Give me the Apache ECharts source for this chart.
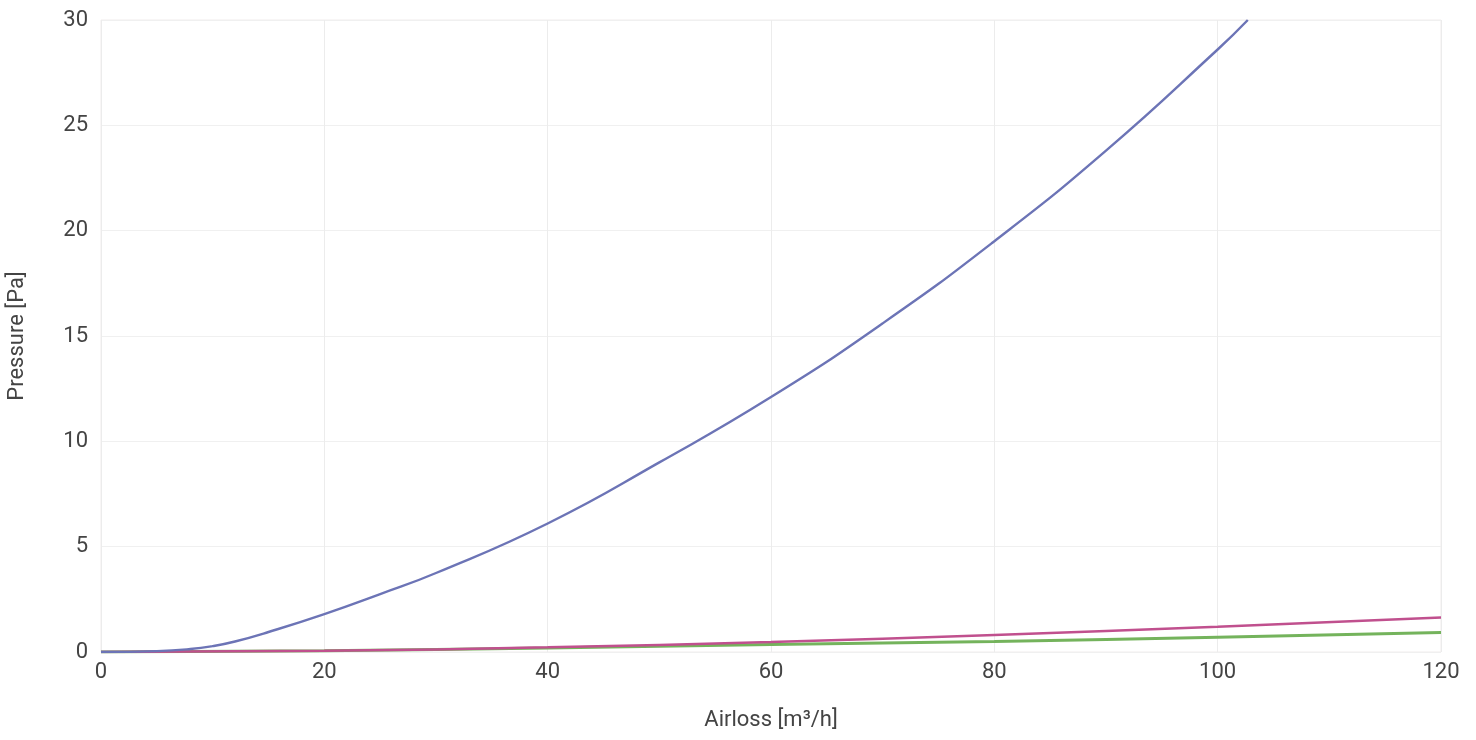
<!DOCTYPE html>
<html><head><meta charset="utf-8">
<script src="https://cdn.jsdelivr.net/npm/echarts@6/dist/echarts.min.js"></script>
<style>html,body{margin:0;padding:0;background:#fff}#c{width:1476px;height:740px}</style>
</head><body><div id="c"></div>
<script>
const blueX = [0, 5, 8, 10, 12, 15, 20, 25, 30, 40, 50, 60, 70, 80, 90, 100, 102.7];
const blueY = [0, 0.04, 0.14, 0.28, 0.5, 0.95, 1.8, 2.75, 3.75, 6.1, 9.0, 12.1, 15.6, 19.5, 23.8, 28.6, 30.0];
const pinkX = [0, 20, 40, 60, 80, 100, 120];
const pinkY = [0, 0.06, 0.22, 0.48, 0.81, 1.2, 1.64];
const greenX = [0, 20, 40, 60, 80, 100, 120];
const greenY = [0, 0.06, 0.19, 0.36, 0.5, 0.7, 0.92];
const pairs = (xs, ys) => xs.map((x, i) => [x, ys[i]]);
const chart = echarts.init(document.getElementById('c'));
const labelStyle = {color: '#444', fontSize: 22, fontFamily: 'Roboto'};
chart.setOption({
  animation: false,
  grid: {left: 101, right: 35, top: 20, bottom: 88, containLabel: false, outerBoundsMode: 'none', show: true, borderColor: '#f0eded', borderWidth: 1},
  xAxis: {
    type: 'value', min: 0, max: 120, interval: 20,
    name: 'Airloss [m³/h]', nameLocation: 'middle', nameGap: 57,
    nameTextStyle: {color: '#444', fontSize: 22, fontFamily: 'Roboto'},
    axisLine: {show: false}, axisTick: {show: false},
    axisLabel: Object.assign({margin: 9}, labelStyle),
    splitLine: {show: true, lineStyle: {color: '#ececec', width: 1}}
  },
  yAxis: {
    type: 'value', min: 0, max: 30, interval: 5,
    name: 'Pressure [Pa]', nameLocation: 'middle', nameGap: 73,
    nameTextStyle: {color: '#444', fontSize: 22, fontFamily: 'Roboto'},
    axisLine: {show: false}, axisTick: {show: false},
    axisLabel: Object.assign({margin: 13}, labelStyle),
    splitLine: {show: true, lineStyle: {color: '#f0f0f0', width: 1}}
  },
  series: [
    {type: 'line', data: pairs(greenX, greenY), smooth: true, showSymbol: false, lineStyle: {color: '#74b35c', width: 3}, z: 2},
    {type: 'line', data: pairs(pinkX, pinkY), smooth: true, showSymbol: false, lineStyle: {color: '#c0508e', width: 2.5}, z: 3},
    {type: 'line', data: pairs(blueX, blueY), smooth: true, showSymbol: false, lineStyle: {color: '#6c74b6', width: 2.4}, z: 4}
  ]
});
</script></body></html>
